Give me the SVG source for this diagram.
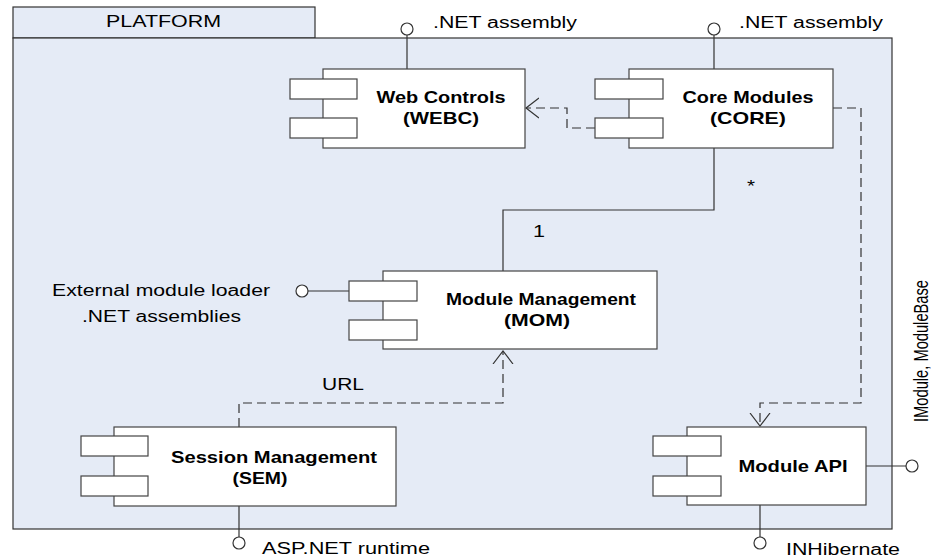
<svg xmlns="http://www.w3.org/2000/svg" width="931" height="560" viewBox="0 0 931 560">
  <defs>
    <style>
      .frame { fill: #e5ebf6; stroke: #333333; stroke-width: 1.2; }
      .box { fill: #ffffff; stroke: #444444; stroke-width: 1.2; }
      .line { fill: none; stroke: #333333; stroke-width: 1.2; }
      .dash { fill: none; stroke: #333333; stroke-width: 1.2; stroke-dasharray: 9 5; }
      .lolli { fill: #ffffff; stroke: #333333; stroke-width: 1.2; }
      .t { font-family: "Liberation Sans", Arial, sans-serif; font-size: 16px; fill: #000000; }
      .b { font-family: "Liberation Sans", Arial, sans-serif; font-size: 17px; font-weight: bold; fill: #000000; text-anchor: middle; }
    </style>
    <marker id="open" viewBox="0 0 14 22" refX="13" refY="11" markerWidth="14" markerHeight="22" markerUnits="userSpaceOnUse" orient="auto">
      <path d="M0,1 L13,11 L0,21" fill="none" stroke="#333333" stroke-width="1.2"/>
    </marker>
  </defs>

  <!-- package frame -->
  <g id="platform">
    <rect class="frame" x="13" y="7" width="302" height="31"/>
    <rect class="frame" x="13" y="38" width="879" height="491"/>
    <text class="t" x="106" y="27" textLength="115" lengthAdjust="spacingAndGlyphs">PLATFORM</text>
  </g>

  <!-- connectors -->
  <g id="connectors">
    <!-- Core to Web Controls dependency -->
    <polyline class="dash" points="595,128 567,128 567,108 526,108" marker-end="url(#open)"/>
    <!-- Core to Module API dependency -->
    <polyline class="dash" points="833,108 861,108 861,403 760,403 760,426" marker-end="url(#open)"/>
    <!-- Session to Module Management (URL) -->
    <polyline class="dash" points="239,427 239,403 503,403 503,351" marker-end="url(#open)"/>
    <!-- Core / Module Management association, many to one -->
    <polyline class="line" points="714,148 714,210 503,210 503,271"/>
    <text class="t" x="747" y="192" textLength="8" lengthAdjust="spacingAndGlyphs">*</text>
    <text class="t" x="533" y="237" textLength="12" lengthAdjust="spacingAndGlyphs">1</text>
    <text class="t" x="322" y="390" textLength="42" lengthAdjust="spacingAndGlyphs">URL</text>
  </g>

  <!-- Web Controls -->
  <g id="webc">
    <line class="line" x1="407" y1="35" x2="407" y2="69"/>
    <circle class="lolli" cx="407" cy="29" r="6"/>
    <text class="t" x="433" y="28" textLength="144" lengthAdjust="spacingAndGlyphs">.NET assembly</text>
    <rect class="box" x="323" y="69" width="202" height="79"/>
    <rect class="box" x="290" y="79" width="67" height="20"/>
    <rect class="box" x="290" y="118" width="67" height="20"/>
    <text class="b" x="441" y="103" textLength="129" lengthAdjust="spacingAndGlyphs">Web Controls</text>
    <text class="b" x="441" y="124" textLength="76" lengthAdjust="spacingAndGlyphs">(WEBC)</text>
  </g>

  <!-- Core Modules -->
  <g id="core">
    <line class="line" x1="714" y1="35" x2="714" y2="69"/>
    <circle class="lolli" cx="714" cy="29" r="6"/>
    <text class="t" x="739" y="28" textLength="144" lengthAdjust="spacingAndGlyphs">.NET assembly</text>
    <rect class="box" x="629" y="69" width="204" height="79"/>
    <rect class="box" x="595" y="79" width="68" height="20"/>
    <rect class="box" x="595" y="118" width="68" height="20"/>
    <text class="b" x="748" y="103" textLength="131" lengthAdjust="spacingAndGlyphs">Core Modules</text>
    <text class="b" x="748" y="124" textLength="76" lengthAdjust="spacingAndGlyphs">(CORE)</text>
  </g>

  <!-- Module Management -->
  <g id="mom">
    <line class="line" x1="308" y1="291" x2="349" y2="291"/>
    <circle class="lolli" cx="302" cy="291" r="6"/>
    <text class="t" x="52" y="296" textLength="218" lengthAdjust="spacingAndGlyphs">External module loader</text>
    <text class="t" x="82" y="322" textLength="159" lengthAdjust="spacingAndGlyphs">.NET assemblies</text>
    <rect class="box" x="383" y="271" width="274" height="78"/>
    <rect class="box" x="349" y="281" width="68" height="20"/>
    <rect class="box" x="349" y="320" width="68" height="20"/>
    <text class="b" x="541" y="305" textLength="190" lengthAdjust="spacingAndGlyphs">Module Management</text>
    <text class="b" x="537" y="326" textLength="66" lengthAdjust="spacingAndGlyphs">(MOM)</text>
  </g>

  <!-- Session Management -->
  <g id="sem">
    <line class="line" x1="239" y1="506" x2="239" y2="537"/>
    <circle class="lolli" cx="239" cy="543" r="6"/>
    <text class="t" x="262" y="554" textLength="168" lengthAdjust="spacingAndGlyphs">ASP.NET runtime</text>
    <rect class="box" x="114" y="427" width="282" height="79"/>
    <rect class="box" x="81" y="436" width="67" height="20"/>
    <rect class="box" x="81" y="476" width="67" height="20"/>
    <text class="b" x="274" y="463" textLength="206" lengthAdjust="spacingAndGlyphs">Session Management</text>
    <text class="b" x="260" y="484" textLength="55" lengthAdjust="spacingAndGlyphs">(SEM)</text>
  </g>

  <!-- Module API -->
  <g id="api">
    <line class="line" x1="760" y1="505" x2="760" y2="537"/>
    <circle class="lolli" cx="760" cy="543" r="6"/>
    <text class="t" x="786" y="555" textLength="114" lengthAdjust="spacingAndGlyphs">INHibernate</text>
    <line class="line" x1="866" y1="466" x2="906" y2="466"/>
    <circle class="lolli" cx="912" cy="466" r="6"/>
    <text class="t" transform="translate(928,351) scale(1.3,1) rotate(-90)" style="font-size:15px" text-anchor="middle" textLength="142" lengthAdjust="spacingAndGlyphs">IModule, ModuleBase</text>
    <rect class="box" x="687" y="427" width="179" height="78"/>
    <rect class="box" x="653" y="436" width="68" height="20"/>
    <rect class="box" x="653" y="476" width="68" height="20"/>
    <text class="b" x="793" y="472" textLength="109" lengthAdjust="spacingAndGlyphs">Module API</text>
  </g>
</svg>
